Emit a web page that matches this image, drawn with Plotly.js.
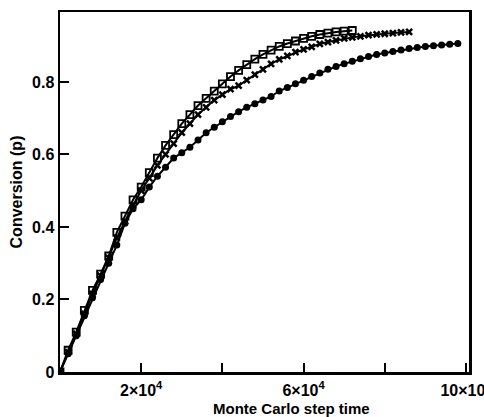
<!DOCTYPE html>
<html>
<head>
<meta charset="utf-8">
<script src="https://cdn.plot.ly/plotly-3.0.1.min.js"></script>
<style>html,body{margin:0;padding:0;background:#fff;}#chart{width:484px;height:417px;}</style>
</head>
<body>
<div id="chart"></div>
<script>
// Series A: open squares
var sqX = [0, 2000, 4000, 6000, 8000, 10000, 12000, 14000, 16000, 18000, 20000, 22000, 24000, 26000, 28000, 30000, 32000, 34000, 36000, 38000, 40000, 42000, 44000, 46000, 48000, 50000, 52000, 54000, 56000, 58000, 60000, 62000, 64000, 66000, 68000, 70000, 72000];
var sqY = [0.0, 0.06, 0.11, 0.17, 0.225, 0.27, 0.32, 0.385, 0.43, 0.475, 0.51, 0.55, 0.59, 0.625, 0.655, 0.685, 0.71, 0.735, 0.755, 0.775, 0.795, 0.815, 0.832, 0.848, 0.863, 0.876, 0.888, 0.898, 0.906, 0.913, 0.92, 0.926, 0.931, 0.935, 0.938, 0.94, 0.942];
// Series B: crosses
var crX = [0, 2000, 4000, 6000, 8000, 10000, 12000, 14000, 16000, 18000, 20000, 22000, 24000, 26000, 28000, 30000, 32000, 34000, 36000, 38000, 40000, 42000, 44000, 46000, 48000, 50000, 52000, 54000, 56000, 58000, 60000, 62000, 64000, 66000, 68000, 70000, 72000, 74000, 76000, 78000, 80000, 82000, 84000, 86000];
var crY = [0.0, 0.055, 0.105, 0.16, 0.215, 0.265, 0.315, 0.37, 0.415, 0.46, 0.50, 0.535, 0.57, 0.60, 0.63, 0.66, 0.685, 0.71, 0.73, 0.75, 0.765, 0.78, 0.79, 0.805, 0.82, 0.835, 0.85, 0.862, 0.872, 0.882, 0.89, 0.897, 0.905, 0.91, 0.915, 0.92, 0.923, 0.926, 0.929, 0.931, 0.933, 0.935, 0.937, 0.938];
// Series C: filled circles
var dtX = [0, 2000, 4000, 6000, 8000, 10000, 12000, 14000, 16000, 18000, 20000, 22000, 24000, 26000, 28000, 30000, 32000, 34000, 36000, 38000, 40000, 42000, 44000, 46000, 48000, 50000, 52000, 54000, 56000, 58000, 60000, 62000, 64000, 66000, 68000, 70000, 72000, 74000, 76000, 78000, 80000, 82000, 84000, 86000, 88000, 90000, 92000, 94000, 96000, 98000];
var dtY = [0.0, 0.05, 0.10, 0.155, 0.205, 0.255, 0.30, 0.35, 0.41, 0.45, 0.475, 0.51, 0.54, 0.565, 0.59, 0.605, 0.62, 0.64, 0.66, 0.675, 0.69, 0.705, 0.718, 0.73, 0.74, 0.75, 0.76, 0.775, 0.785, 0.795, 0.805, 0.815, 0.825, 0.835, 0.843, 0.85, 0.857, 0.864, 0.87, 0.876, 0.88, 0.884, 0.888, 0.892, 0.895, 0.898, 0.900, 0.902, 0.904, 0.906];

var xTickVals = [20000, 40000, 60000, 80000, 100000];
var xTickText = ['2×10<sup>4</sup>', '', '6×10<sup>4</sup>', '', '10×10<sup>4</sup>'];
var yTickVals = [0, 0.2, 0.4, 0.6, 0.8];
var yTickText = ['0', '0.2', '0.4', '0.6', '0.8'];
var xTitle = 'Monte Carlo step time';
var yTitle = 'Conversion (p)';

var traces = [
  {x: dtX, y: dtY, mode: 'lines+markers', line: {color: '#000', width: 2},
   marker: {symbol: 'circle', size: 7, color: '#000'}},
  {x: crX, y: crY, mode: 'lines+markers', line: {color: '#000', width: 2},
   marker: {symbol: 'x-thin', size: 6, color: '#000', line: {color: '#000', width: 2.5}}},
  {x: sqX, y: sqY, mode: 'lines+markers', line: {color: '#000', width: 2},
   marker: {symbol: 'square-open', size: 7, color: '#000', line: {color: '#000', width: 1.8}}}
];

var fam = 'Liberation Sans, Arial, sans-serif';
var layout = {
  width: 484, height: 417,
  margin: {l: 60, r: 15, t: 12, b: 45},
  paper_bgcolor: '#fff', plot_bgcolor: '#fff',
  showlegend: false,
  font: {family: fam, color: '#000'},
  xaxis: {
    range: [0, 100750], tickvals: xTickVals, ticktext: xTickText,
    ticks: 'inside', ticklen: 9, tickwidth: 2, tickcolor: '#000',
    showline: true, linewidth: 2.5, linecolor: '#000', mirror: true,
    showgrid: false, zeroline: false,
    ticklabeloverflow: 'allow', ticklabelstandoff: 2,
    tickfont: {family: fam, size: 16, weight: 'bold', color: '#000'}
  },
  yaxis: {
    range: [0, 0.993], tickvals: yTickVals, ticktext: yTickText,
    ticks: 'inside', ticklen: 9, tickwidth: 2, tickcolor: '#000',
    showline: true, linewidth: 2.5, linecolor: '#000', mirror: true,
    showgrid: false, zeroline: false,
    tickfont: {family: fam, size: 16, weight: 'bold', color: '#000'},
    title: {text: yTitle, standoff: 6,
            font: {family: fam, size: 16, weight: 'bold', color: '#000'}}
  },
  annotations: [{
    text: xTitle, xref: 'paper', yref: 'paper', x: 0.567, y: -0.1,
    xanchor: 'center', yanchor: 'middle', showarrow: false,
    font: {family: fam, size: 15, weight: 'bold', color: '#000'}
  }]
};

Plotly.newPlot('chart', traces, layout, {staticPlot: true, displayModeBar: false});
</script>
</body>
</html>
